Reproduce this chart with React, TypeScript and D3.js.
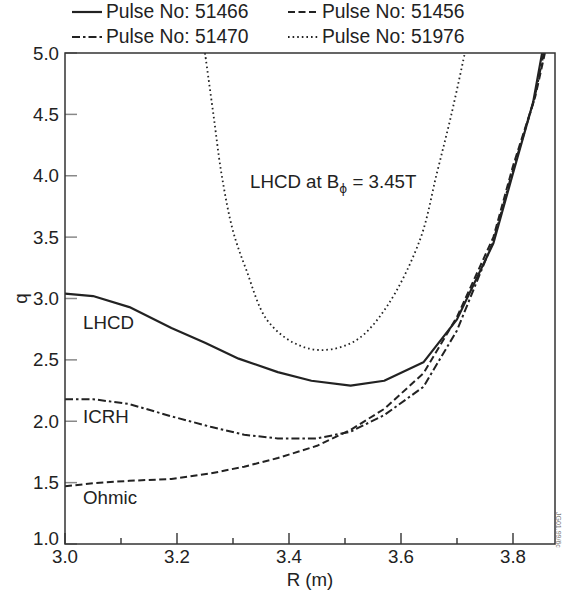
import React from "react";
import * as d3 from "d3";

// ---- Data ----
const rLHCD = [3.0, 3.05, 3.115, 3.19, 3.25, 3.31, 3.38, 3.44, 3.51, 3.57, 3.64, 3.70, 3.765, 3.80, 3.836, 3.852];
const qLHCD = [3.04, 3.02, 2.93, 2.76, 2.64, 2.51, 2.40, 2.33, 2.29, 2.33, 2.48, 2.83, 3.45, 4.02, 4.6, 5.0];

const rICRH = [3.0, 3.05, 3.115, 3.19, 3.26, 3.32, 3.38, 3.45, 3.51, 3.57, 3.64, 3.70, 3.765, 3.80, 3.838, 3.855];
const qICRH = [2.18, 2.18, 2.14, 2.04, 1.955, 1.89, 1.86, 1.86, 1.915, 2.05, 2.28, 2.74, 3.47, 4.05, 4.62, 5.0];

const rOhmic = [3.0, 3.05, 3.115, 3.19, 3.26, 3.32, 3.38, 3.45, 3.51, 3.57, 3.64, 3.70, 3.765, 3.80, 3.84, 3.857];
const qOhmic = [1.47, 1.495, 1.515, 1.53, 1.575, 1.63, 1.70, 1.80, 1.93, 2.10, 2.39, 2.85, 3.50, 4.08, 4.65, 5.0];

const rLH345 = [3.25, 3.265, 3.28, 3.30, 3.324, 3.36, 3.408, 3.46, 3.52, 3.574, 3.634, 3.664, 3.69, 3.714];
const qLH345 = [5.0, 4.5, 4.0, 3.55, 3.23, 2.83, 2.64, 2.58, 2.66, 2.93, 3.48, 4.02, 4.5, 5.0];

const xMajorTicks = [3.0, 3.2, 3.4, 3.6, 3.8];
const xMinorTicks = [3.1, 3.3, 3.5, 3.7];
const yTicks = [1.0, 1.5, 2.0, 2.5, 3.0, 3.5, 4.0, 4.5, 5.0];

const legendLabels = ["Pulse No: 51466", "Pulse No: 51456", "Pulse No: 51470", "Pulse No: 51976"];

// ---- Layout ----
const W = 563, H = 591;
const L = 65, R = 555, T = 53, B = 544;
const FONT = "Liberation Sans, Arial, Helvetica, sans-serif";
const FS = 18.7;

const x = d3.scaleLinear().domain([3.0, 3.875]).range([L, R]);
const y = d3.scaleLinear().domain([1.0, 5.0]).range([B, T]);

const styles = {
  solid: { dash: "none", width: 2.2 },
  dashed: { dash: "7,3.5", width: 2 },
  dashdot: { dash: "8,3,2.5,3", width: 2 },
  dotted: { dash: "1.6,3", width: 1.8 },
};

function mk(rs: number[], qs: number[], curve: any) {
  const pts = rs.map((r, i) => [r, qs[i]] as [number, number]);
  return d3.line<[number, number]>().x((d) => x(d[0])).y((d) => y(d[1])).curve(curve)(pts) || "";
}

export default function App() {
  const series = [
    { d: mk(rLH345, qLH345, d3.curveCatmullRom.alpha(0.5)), s: styles.dotted },
    { d: mk(rOhmic, qOhmic, d3.curveLinear), s: styles.dashed },
    { d: mk(rICRH, qICRH, d3.curveLinear), s: styles.dashdot },
    { d: mk(rLHCD, qLHCD, d3.curveLinear), s: styles.solid },
  ];
  const legend = [
    { label: legendLabels[0], s: styles.solid, lx: 72, ly: 18 },
    { label: legendLabels[1], s: styles.dashed, lx: 288, ly: 18 },
    { label: legendLabels[2], s: styles.dashdot, lx: 72, ly: 43 },
    { label: legendLabels[3], s: styles.dotted, lx: 288, ly: 43 },
  ];
  const ink = "#222";
  return (
    <svg width={W} height={H} style={{ position: "absolute", left: 0, top: 0, background: "#fff" }} fontFamily={FONT}>
      <defs>
        <clipPath id="plot">
          <rect x={L} y={T} width={R - L} height={B - T} />
        </clipPath>
      </defs>
      {/* legend */}
      {legend.map((g, i) => (
        <g key={i}>
          <line x1={g.lx} x2={g.lx + 30} y1={g.ly - 6} y2={g.ly - 6} stroke={ink} strokeWidth={g.s.width} strokeDasharray={g.s.dash} />
          <text x={g.lx + 34} y={g.ly} fontSize={19.3} fill={ink}>{g.label}</text>
        </g>
      ))}
      {/* y ticks */}
      {yTicks.map((t) => (
        <g key={"y" + t}>
          <line x1={L} x2={L + 12} y1={y(t)} y2={y(t)} stroke="#888" strokeWidth={1.5} />
          <text x={L - 6} y={t === 1.0 ? y(t) - 6 : y(t)} dy="0.35em" textAnchor="end" fontSize={FS} fill={ink}>{t.toFixed(1)}</text>
        </g>
      ))}
      {/* x ticks */}
      {xMajorTicks.map((t) => (
        <g key={"x" + t}>
          <line x1={x(t)} x2={x(t)} y1={B} y2={B - 11} stroke={ink} strokeWidth={1.3} />
          <text x={x(t)} y={563} textAnchor="middle" fontSize={FS} fill={ink}>{t.toFixed(1)}</text>
        </g>
      ))}
      {xMinorTicks.map((t) => (
        <line key={"xm" + t} x1={x(t)} x2={x(t)} y1={B} y2={B - 6} stroke={ink} strokeWidth={1.3} />
      ))}
      {/* curves */}
      <g clipPath="url(#plot)">
        {series.map((sr, i) => (
          <path key={i} d={sr.d} fill="none" stroke={ink} strokeWidth={sr.s.width} strokeDasharray={sr.s.dash} strokeLinejoin="round" />
        ))}
      </g>
      {/* frame */}
      <rect x={L} y={T} width={R - L} height={B - T} fill="none" stroke="#333" strokeWidth={1.5} />
      {/* annotations */}
      <text x={83} y={329} fontSize={FS} fill={ink}>LHCD</text>
      <text x={83} y={423} fontSize={FS} fill={ink}>ICRH</text>
      <text x={83} y={504} fontSize={FS} fill={ink}>Ohmic</text>
      <text x={250} y={188} fontSize={FS} fill={ink}>
        LHCD at B<tspan fontSize={12} dy={5} fontFamily="DejaVu Sans" fill={ink}>ϕ</tspan><tspan dy={-5}> = 3.45T</tspan>
      </text>
      {/* axis titles */}
      <text x={(L + R) / 2} y={586} textAnchor="middle" fontSize={FS} fill={ink}>R (m)</text>
      <text transform={`translate(27,${(T + B) / 2}) rotate(-90)`} textAnchor="middle" fontSize={FS} fill={ink}>q</text>
      <text transform="translate(556,512) rotate(90)" fontSize={7} fill="#777">JG01.99/6c</text>
    </svg>
  );
}
